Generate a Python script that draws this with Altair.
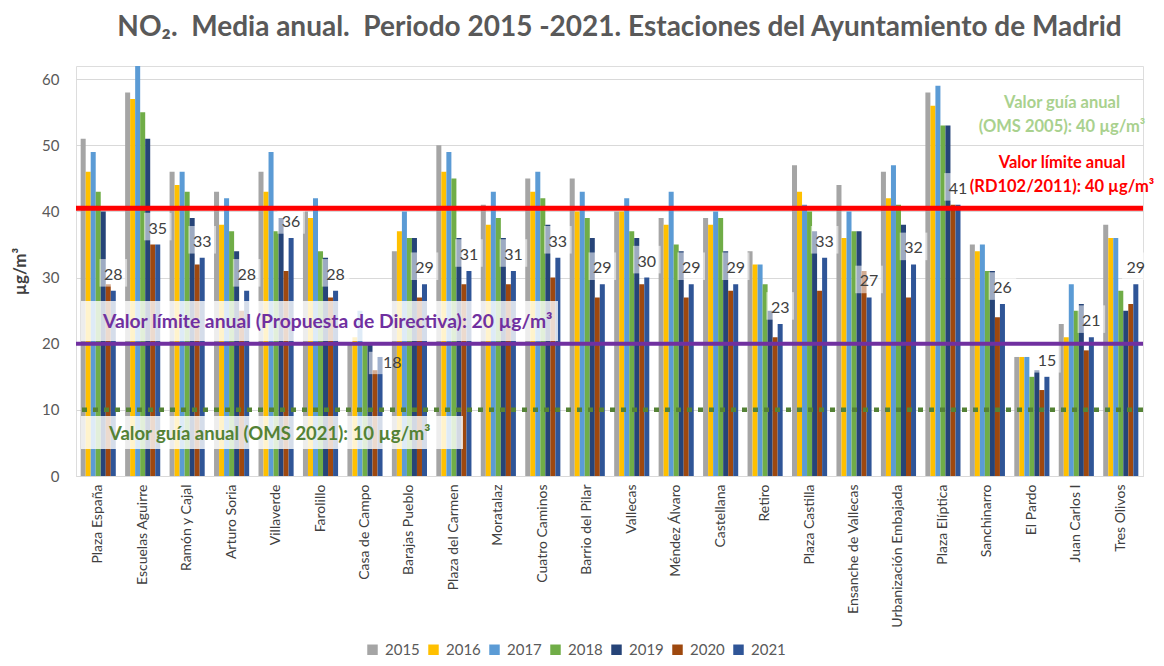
import altair as alt
import pandas as pd

stations = ["Plaza España", "Escuelas Aguirre", "Ramón y Cajal", "Arturo Soria", "Villaverde",
            "Farolillo", "Casa de Campo", "Barajas Pueblo", "Plaza del Carmen", "Moratalaz",
            "Cuatro Caminos", "Barrio del Pilar", "Vallecas", "Méndez Álvaro", "Castellana",
            "Retiro", "Plaza Castilla", "Ensanche de Vallecas", "Urbanización Embajada",
            "Plaza Elíptica", "Sanchinarro", "El Pardo", "Juan Carlos I", "Tres Olivos"]
years = ["2015", "2016", "2017", "2018", "2019", "2020", "2021"]
colors = ["#a5a5a5", "#ffc000", "#5b9bd5", "#70ad47", "#264478", "#9e480e", "#2f5597"]

v2015 = [51, 58, 46, 43, 46, 40, 20, 34, 50, 41, 45, 45, 40, 39, 39, 34, 47, 44, 46, 58, 35, 18, 23, 38]
v2016 = [46, 57, 44, 38, 43, 39, 21, 37, 46, 38, 43, 40, 40, 38, 38, 32, 43, 36, 42, 56, 34, 18, 21, 36]
v2017 = [49, 62, 46, 42, 49, 42, 25, 40, 49, 43, 46, 43, 42, 43, 40, 32, 41, 40, 47, 59, 35, 18, 29, 36]
v2018 = [43, 55, 43, 37, 37, 34, 20, 36, 45, 39, 42, 39, 37, 35, 39, 29, 40, 37, 41, 53, 31, 15, 25, 28]
v2019 = [40, 51, 39, 34, 39, 33, 20, 36, 36, 36, 38, 36, 36, 34, 34, 25, 37, 37, 38, 53, 31, 16, 26, 25]
v2020 = [29, 35, 32, 25, 31, 27, 16, 27, 29, 29, 30, 27, 29, 27, 28, 21, 28, 31, 27, 41, 24, 13, 19, 26]
v2021 = [28, 35, 33, 28, 36, 28, 18, 29, 31, 31, 33, 29, 30, 29, 29, 23, 33, 27, 32, 41, 26, 15, 21, 29]
labels_2021 = [28, 35, 33, 28, 36, 28, 18, 29, 31, 31, 33, 29, 30, 29, 29, 23, 33, 27, 32, 41, 26, 15, 21, 29]

limit_rd = 40.5
limit_dir = 20
guide_oms21 = 10

rows = []
for yr, vals in zip(years, [v2015, v2016, v2017, v2018, v2019, v2020, v2021]):
    for s, v in zip(stations, vals):
        rows.append({"station": s, "year": yr, "value": v})
df = pd.DataFrame(rows)
lab = pd.DataFrame({"station": stations, "year": ["2021"] * len(stations),
                    "value": v2021, "label": labels_2021})
side_label = ["Casa de Campo"]  # label drawn beside the bar (below the 20 µg/m³ line)
lab_top = lab[~lab["station"].isin(side_label)]
lab_side = lab[lab["station"].isin(side_label)]

W, H = 1067, 410
FONT = "Lato"

xenc = alt.X("station:N", sort=stations,
             scale=alt.Scale(paddingInner=0.21, paddingOuter=0.105),
             axis=alt.Axis(title=None, labelAngle=-90, labelFont=FONT, labelFontSize=14,
                           labelColor="#404040", labelPadding=8, ticks=False,
                           domainColor="#d9d9d9", labelLimit=300))
xoff = alt.XOffset("year:N", sort=years, scale=alt.Scale(paddingInner=0, paddingOuter=0))
yenc = alt.Y("value:Q", scale=alt.Scale(domain=[0, 62], nice=False),
             axis=alt.Axis(values=[0, 10, 20, 30, 40, 50, 60], title="µg/m³", titleFont=FONT,
                           titleFontSize=17, titleFontWeight="bold", titleColor="#404040",
                           titlePadding=12, labelFont=FONT, labelFontSize=15,
                           labelColor="#595959", labelPadding=17, domain=False, ticks=False,
                           gridColor="#d9d9d9"))

bars = alt.Chart(df).mark_bar().encode(
    x=xenc, xOffset=xoff, y=yenc,
    color=alt.Color("year:N", sort=years, scale=alt.Scale(domain=years, range=colors),
                    legend=alt.Legend(title=None, orient="none", direction="horizontal",
                                      legendX=289, legendY=576, symbolType="square",
                                      symbolSize=110, symbolStrokeWidth=0,
                                      labelFont=FONT, labelFontSize=15, labelColor="#595959",
                                      columnPadding=6, labelOffset=5, padding=0))
)

boxes = alt.Chart(lab_top).mark_point(shape="square", filled=True, color="white", opacity=0.55,
                                      size=760, yOffset=-18).encode(
    x=alt.X("station:N", sort=stations), xOffset=alt.XOffset("year:N", sort=years),
    y=alt.Y("value:Q")
)
boxes_side = alt.Chart(lab_side).mark_point(shape="square", filled=True, color="white",
                                            opacity=0.55, size=500, xOffset=4, yOffset=6).encode(
    x=alt.X("station:N", sort=stations), xOffset=alt.XOffset("year:N", sort=years),
    y=alt.Y("value:Q")
)
texts = alt.Chart(lab_top).mark_text(font=FONT, fontSize=16, color="#404040", dy=-11,
                                     baseline="alphabetic", align="center").encode(
    x=alt.X("station:N", sort=stations), xOffset=alt.XOffset("year:N", sort=years),
    y=alt.Y("value:Q"), text="label:Q"
)
texts_side = alt.Chart(lab_side).mark_text(font=FONT, fontSize=16, color="#404040", dx=3, dy=11,
                                           baseline="alphabetic", align="left").encode(
    x=alt.X("station:N", sort=stations), xOffset=alt.XOffset("year:N", sort=years),
    y=alt.Y("value:Q"), text="label:Q"
)

one = pd.DataFrame({"a": [0]})
red = alt.Chart(pd.DataFrame({"v": [limit_rd]})).mark_rule(color="#ff0000", strokeWidth=5).encode(
    y=alt.Y("v:Q"))
purple = alt.Chart(pd.DataFrame({"v": [limit_dir]})).mark_rule(color="#7030a0", strokeWidth=4).encode(
    y=alt.Y("v:Q"))
green = alt.Chart(pd.DataFrame({"v": [guide_oms21]})).mark_rule(
    color="#548235", strokeWidth=4.5, strokeDash=[5, 6]).encode(y=alt.Y("v:Q"))

box_dir = alt.Chart(one).mark_rect(color="white", opacity=0.8).encode(
    x=alt.value(5), x2=alt.value(482), y=alt.value(235), y2=alt.value(275))
box_oms = alt.Chart(one).mark_rect(color="white", opacity=0.8).encode(
    x=alt.value(5), x2=alt.value(387), y=alt.value(350), y2=alt.value(383))

t_dir = alt.Chart(one).mark_text(text="Valor límite anual (Propuesta de Directiva): 20 µg/m³",
                                 font=FONT, fontSize=19.3, fontWeight="bold", color="#7030a0",
                                 align="left", baseline="middle").encode(
    x=alt.value(27), y=alt.value(256))
t_oms21 = alt.Chart(one).mark_text(text="Valor guía anual (OMS 2021): 10 µg/m³",
                                   font=FONT, fontSize=18.5, fontWeight="bold", color="#548235",
                                   align="left", baseline="middle").encode(
    x=alt.value(33), y=alt.value(368))
RX = 986
RS = 16.5
t_oms05a = alt.Chart(one).mark_text(text="Valor guía anual", font=FONT, fontSize=RS,
                                    fontWeight="bold", color="#a9d18e", align="center",
                                    baseline="middle").encode(x=alt.value(RX), y=alt.value(37))
t_oms05b = alt.Chart(one).mark_text(text="(OMS 2005): 40 µg/m³", font=FONT, fontSize=RS,
                                    fontWeight="bold", color="#a9d18e", align="center",
                                    baseline="middle").encode(x=alt.value(RX), y=alt.value(61))
t_rda = alt.Chart(one).mark_text(text="Valor límite anual", font=FONT, fontSize=RS,
                                 fontWeight="bold", color="#ff0000", align="center",
                                 baseline="middle").encode(x=alt.value(RX), y=alt.value(97))
t_rdb = alt.Chart(one).mark_text(text="(RD102/2011): 40 µg/m³", font=FONT, fontSize=RS,
                                 fontWeight="bold", color="#ff0000", align="center",
                                 baseline="middle").encode(x=alt.value(RX), y=alt.value(121))

title_text = "NO₂.\u00a0 Media anual.\u00a0 Periodo 2015 -2021. Estaciones del Ayuntamiento de Madrid"

chart = alt.layer(
    bars, boxes, boxes_side, red, purple, green, box_dir, box_oms, texts, texts_side,
    t_dir, t_oms21, t_oms05a, t_oms05b, t_rda, t_rdb
).properties(
    width=W, height=H,
    padding={"left": 3, "top": 6, "right": 0, "bottom": 0},
    title=alt.TitleParams(
        title_text,
        font=FONT, fontSize=28, fontWeight="bold", color="#595959",
        anchor="middle", frame="group", dx=10, offset=24)
).configure_view(stroke=None).configure(background="white")

chart.save("out.html", embed_options={"renderer": "svg", "actions": False})
